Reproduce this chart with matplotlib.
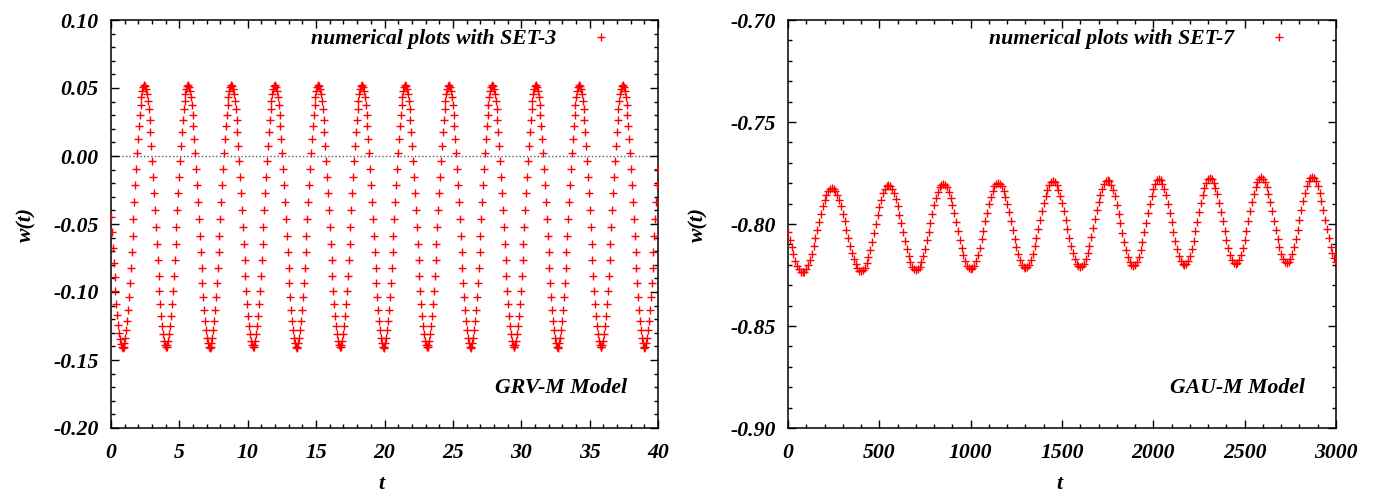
import numpy as np
import matplotlib
matplotlib.use("Agg")
import matplotlib.pyplot as plt
from matplotlib.ticker import MultipleLocator, FormatStrFormatter

# ---------------------------------------------------------------------------
# Data: w(t), stored in units of 1e-4
# ---------------------------------------------------------------------------
# GRV-M model, SET-3: sampled every dt_left in t
dt_left = 0.065567
w_left_e4 = [
    -445, -561, -676, -787, -893, -993, -1085, -1167, -1239, -1300, -1347, -1382, -1403,
    # oscillation 1
    -1410, -1402, -1378, -1338, -1283, -1215, -1133, -1040, -937, -825, -707, -585, -461, -336, -213, -94, 19,
    125, 221, 305, 377, 436, 479, 507, 520, 515, 495, 459, 408, 343, 264, 174, 73, -36, -153,
    -274, -398, -523, -647, -767, -882, -989, -1088, -1175, -1251, -1312, -1360, -1392, -1408,
    # oscillation 2
    -1408, -1392, -1360, -1312, -1251, -1175, -1088, -989, -882, -767, -647, -523, -398, -274, -153, -36,
    73, 174, 264, 343, 408, 459, 495, 515, 520, 507, 479, 436, 377, 305, 221, 125, 19, -94,
    -213, -336, -461, -585, -707, -825, -937, -1040, -1133, -1215, -1283, -1338, -1378, -1402,
    # oscillation 3
    -1410, -1402, -1378, -1338, -1283, -1215, -1133, -1040, -937, -825, -707, -585, -461, -336, -213, -94, 19,
    125, 221, 305, 377, 436, 479, 507, 520, 515, 495, 459, 408, 343, 264, 174, 73, -36, -153,
    -274, -398, -523, -647, -767, -882, -989, -1088, -1175, -1251, -1312, -1360, -1392, -1408,
    # oscillation 4
    -1408, -1392, -1360, -1312, -1251, -1175, -1088, -989, -882, -767, -647, -523, -398, -274, -153, -36,
    73, 174, 264, 343, 408, 459, 495, 515, 520, 507, 479, 436, 377, 305, 221, 125, 19, -94,
    -213, -336, -461, -585, -707, -825, -937, -1040, -1133, -1215, -1283, -1338, -1378, -1402,
    # oscillation 5
    -1410, -1402, -1378, -1338, -1283, -1215, -1133, -1040, -937, -825, -707, -585, -461, -336, -213, -94, 19,
    125, 221, 305, 377, 436, 479, 507, 520, 515, 495, 459, 408, 343, 264, 174, 73, -36, -153,
    -274, -398, -523, -647, -767, -882, -989, -1088, -1175, -1251, -1312, -1360, -1392, -1408,
    # oscillation 6
    -1408, -1392, -1360, -1312, -1251, -1175, -1088, -989, -882, -767, -647, -523, -398, -274, -153, -36,
    73, 174, 264, 343, 408, 459, 495, 515, 520, 507, 479, 436, 377, 305, 221, 125, 19, -94,
    -213, -336, -461, -585, -707, -825, -937, -1040, -1133, -1215, -1283, -1338, -1378, -1402,
    # oscillation 7
    -1410, -1402, -1378, -1338, -1283, -1215, -1133, -1040, -937, -825, -707, -585, -461, -336, -213, -94, 19,
    125, 221, 305, 377, 436, 479, 507, 520, 515, 495, 459, 408, 343, 264, 174, 73, -36, -153,
    -274, -398, -523, -647, -767, -882, -989, -1088, -1175, -1251, -1312, -1360, -1392, -1408,
    # oscillation 8
    -1408, -1392, -1360, -1312, -1251, -1175, -1088, -989, -882, -767, -647, -523, -398, -274, -153, -36,
    73, 174, 264, 343, 408, 459, 495, 515, 520, 507, 479, 436, 377, 305, 221, 125, 19, -94,
    -213, -336, -461, -585, -707, -825, -937, -1040, -1133, -1215, -1283, -1338, -1378, -1402,
    # oscillation 9
    -1410, -1402, -1378, -1338, -1283, -1215, -1133, -1040, -937, -825, -707, -585, -461, -336, -213, -94, 19,
    125, 221, 305, 377, 436, 479, 507, 520, 515, 495, 459, 408, 343, 264, 174, 73, -36, -153,
    -274, -398, -523, -647, -767, -882, -989, -1088, -1175, -1251, -1312, -1360, -1392, -1408,
    # oscillation 10
    -1408, -1392, -1360, -1312, -1251, -1175, -1088, -989, -882, -767, -647, -523, -398, -274, -153, -36,
    73, 174, 264, 343, 408, 459, 495, 515, 520, 507, 479, 436, 377, 305, 221, 125, 19, -94,
    -213, -336, -461, -585, -707, -825, -937, -1040, -1133, -1215, -1283, -1338, -1378, -1402,
    # oscillation 11
    -1410, -1402, -1378, -1338, -1283, -1215, -1133, -1040, -937, -825, -707, -585, -461, -336, -213, -94, 19,
    125, 221, 305, 377, 436, 479, 507, 520, 515, 495, 459, 408, 343, 264, 174, 73, -36, -153,
    -274, -398, -523, -647, -767, -882, -989, -1088, -1175, -1251, -1312, -1360, -1392, -1408,
    # oscillation 12
    -1408, -1392, -1360, -1312, -1251, -1175, -1088, -989, -882, -767, -647, -523, -398, -274, -153, -36,
    73, 174, 264, 343, 408, 459, 495, 515, 520, 507, 479, 436, 377, 305, 221, 125, 19, -94,
    -213, -336, -461, -585, -707, -825, -937, -1040, -1133, -1215, -1283, -1338, -1378, -1402,
    # start of oscillation 13
    -1410, -1402, -1378, -1338, -1283, -1215, -1133, -1040, -937, -825, -707, -585, -461, -336, -213, -94,
]

# GAU-M model, SET-7: sampled every dt_right in t
dt_right = 10
w_right_e4 = [
    -8040, -8078, -8115, -8149, -8179, -8204, -8222, -8233, -8237,
    -8233, -8221, -8202, -8176, -8145, -8109, -8070, -8030, -7989, -7950, -7914, -7883, -7857, -7838, -7826, -7822,
    -7826, -7838, -7857, -7882, -7913, -7949, -7987, -8027, -8067, -8106, -8141, -8172, -8197, -8216, -8228, -8232,
    -8227, -8214, -8192, -8162, -8126, -8086, -8043, -7999, -7956, -7915, -7880, -7850, -7828, -7815, -7810,
    -7815, -7828, -7850, -7879, -7914, -7954, -7997, -8040, -8083, -8123, -8158, -8187, -8209, -8222, -8227,
    -8222, -8209, -8186, -8157, -8121, -8080, -8037, -7993, -7949, -7909, -7873, -7843, -7821, -7808, -7803,
    -7808, -7821, -7843, -7872, -7908, -7948, -7991, -8034, -8077, -8117, -8153, -8182, -8204, -8217, -8222,
    -8217, -8204, -8181, -8152, -8116, -8075, -8032, -7987, -7944, -7903, -7867, -7838, -7815, -7802, -7797,
    -7802, -7815, -7837, -7867, -7902, -7942, -7985, -8029, -8072, -8112, -8148, -8177, -8199, -8212, -8217,
    -8212, -8199, -8176, -8147, -8110, -8070, -8026, -7982, -7938, -7897, -7861, -7832, -7809, -7796, -7791,
    -7796, -7809, -7831, -7861, -7896, -7937, -7980, -8024, -8067, -8107, -8142, -8172, -8194, -8207, -8212,
    -8207, -8194, -8171, -8142, -8106, -8065, -8021, -7977, -7933, -7893, -7857, -7827, -7804, -7791, -7786,
    -7791, -7807, -7832, -7865, -7905, -7950, -7996, -8043, -8088, -8128, -8161, -8186, -8202, -8207,
    -8202, -8186, -8160, -8127, -8086, -8041, -7994, -7947, -7902, -7861, -7828, -7802, -7786, -7781,
    -7786, -7802, -7827, -7860, -7900, -7945, -7991, -8038, -8083, -8123, -8156, -8181, -8197, -8202,
    -8197, -8181, -8155, -8122, -8081, -8036, -7989, -7942, -7897, -7856, -7823, -7797, -7781, -7776,
    -7781, -7797, -7822, -7855, -7895, -7940, -7986, -8033, -8078, -8118, -8151, -8176, -8192, -8197,
    -8192, -8176, -8151, -8117, -8077, -8032, -7985, -7937, -7892, -7852, -7818, -7793, -7777, -7772,
    -7777, -7793, -7818, -7851, -7891, -7936, -7983, -8029, -8074, -8114, -8147, -8172, -8188, -8193,
    -8188, -8172, -8147, -8113, -8073, -8028, -7981, -7933, -7888, -7848, -7814, -7789, -7773, -7768,
    -7773, -7789, -7814, -7847, -7888, -7932, -7979, -8026, -8071, -8111, -8144, -8169, -8185,
]

panels = [
    dict(w=np.array(w_left_e4) / 1e4, dt=dt_left,
         label="numerical plots with SET-3", model="GRV-M Model",
         xlim=(0, 40), xmajor=5, xminor=1,
         ylim=(-0.20, 0.10), ymajor=0.05, yminor=0.01, zero_line=True,
         ylabel_x=-0.137),
    dict(w=np.array(w_right_e4) / 1e4, dt=dt_right,
         label="numerical plots with SET-7", model="GAU-M Model",
         xlim=(0, 3000), xmajor=500, xminor=100,
         ylim=(-0.90, -0.70), ymajor=0.05, yminor=0.01, zero_line=False,
         ylabel_x=-0.145),
]

# ---------------------------------------------------------------------------
# Figure
# ---------------------------------------------------------------------------
FONT = dict(family="Liberation Serif", weight="bold", style="italic")
FS = 15.7

fig = plt.figure(figsize=(13.78, 4.91), dpi=100)
W, H = 1378, 491
rects = [
    [111 / W, 1 - 428 / H, 547 / W, 408 / H],
    [788 / W, 1 - 428 / H, 548 / W, 408 / H],
]

for rect, p in zip(rects, panels):
    ax = fig.add_axes(rect)
    t = np.arange(len(p["w"])) * p["dt"]

    if p["zero_line"]:
        ax.axhline(0.0, color="0.35", lw=1.0, ls=(0, (1, 1.6)), zorder=1)

    ax.plot(t, p["w"], ls="none", marker="+", ms=5.5, mew=1.0,
            color="#ff0000", label=p["label"], zorder=3)

    ax.set_xlim(*p["xlim"])
    ax.set_ylim(*p["ylim"])
    ax.xaxis.set_major_locator(MultipleLocator(p["xmajor"]))
    ax.xaxis.set_minor_locator(MultipleLocator(p["xminor"]))
    ax.yaxis.set_major_locator(MultipleLocator(p["ymajor"]))
    ax.yaxis.set_minor_locator(MultipleLocator(p["yminor"]))
    ax.xaxis.set_major_formatter(FormatStrFormatter("%d"))
    ax.yaxis.set_major_formatter(FormatStrFormatter("%.2f"))

    ax.tick_params(which="both", direction="in", top=True, right=True,
                   colors="black", width=1.0)
    ax.tick_params(which="major", length=5.5)
    ax.tick_params(which="minor", length=2.6)
    ax.tick_params(axis="x", which="major", pad=11)
    ax.tick_params(axis="y", which="major", pad=9)
    for lab in ax.get_xticklabels() + ax.get_yticklabels():
        lab.set_fontfamily(FONT["family"])
        lab.set_fontweight(FONT["weight"])
        lab.set_fontstyle(FONT["style"])
        lab.set_fontsize(FS)
    for s in ax.spines.values():
        s.set_linewidth(1.1)
        s.set_color("black")

    ax.set_xlabel("t", fontsize=FS, **FONT)
    ax.set_ylabel("w(t)", fontsize=FS, **FONT)
    ax.xaxis.set_label_coords(0.495, -0.112)
    ax.yaxis.set_label_coords(p["ylabel_x"], 0.5)

    ax.legend(loc="upper right", bbox_to_anchor=(0.936, 0.978),
              frameon=False, markerfirst=False, numpoints=1,
              handlelength=2.0, handletextpad=1.05, borderpad=0,
              borderaxespad=0, prop=dict(size=FS, **FONT))

    ax.text(0.943, 0.098, p["model"], transform=ax.transAxes,
            ha="right", va="center", fontsize=FS, **FONT)

fig.savefig("out.png", dpi=100)
